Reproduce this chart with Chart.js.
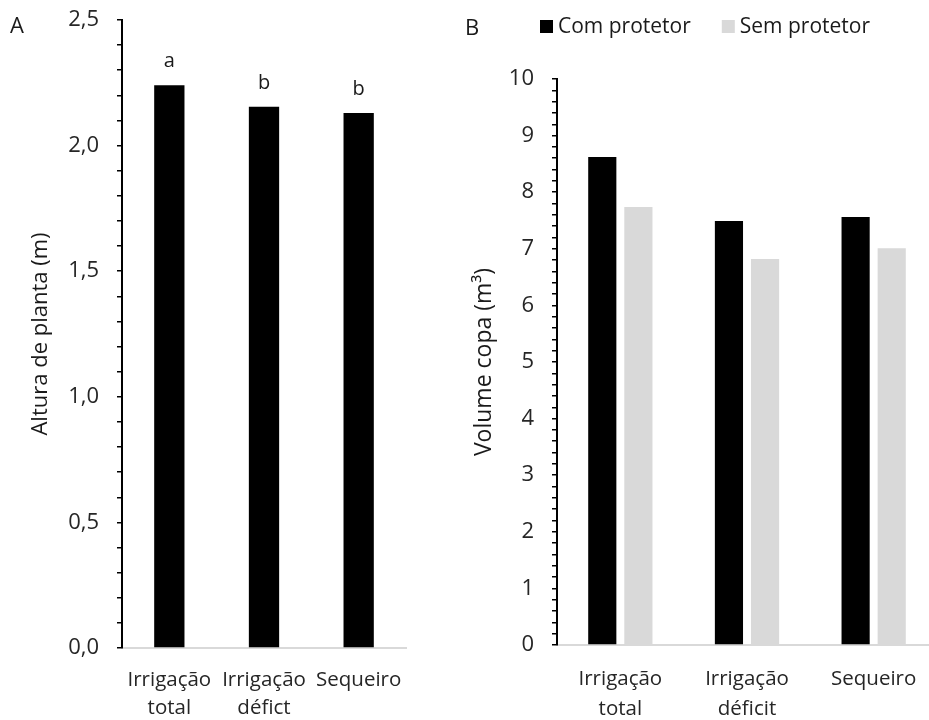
<!DOCTYPE html>
<html>
<head>
<meta charset="utf-8">
<script src="https://cdn.jsdelivr.net/npm/chart.js@4.4.1/dist/chart.umd.min.js"></script>
<style>
    html, body { margin: 0; padding: 0; background: #fff; overflow: hidden; }
    #wrap { position: relative; width: 929px; height: 720px; overflow: hidden; }
    #chartA { position: absolute; left: 0; top: -12px; }
    #chartB { position: absolute; left: 460px; top: 0; }
</style>
</head>
<body>
<div id="wrap">
    <canvas id="chartA" width="430" height="732"></canvas>
    <canvas id="chartB" width="480" height="720"></canvas>
</div>
<script>
// Panel A - plant height
const categoriesA = [['Irrigação', 'total'], ['Irrigação', 'défict'], 'Sequeiro'];
const alturaPlanta = [2.24, 2.155, 2.13];
const letrasA = ['a', 'b', 'b'];

// Panel B - canopy volume
const categoriesB = [['Irrigação', 'total'], ['Irrigação', 'déficit'], 'Sequeiro'];
const seriesB = ['Com protetor', 'Sem protetor'];
const comProtetor = [8.62, 7.49, 7.56];
const semProtetor = [7.74, 6.82, 7.01];

const FONT = "'Open Sans', sans-serif";
const TXT = '#262626';
Chart.defaults.font.family = FONT;
Chart.defaults.color = TXT;

// draws the "A" / "B" panel letter
const panelLetter = {
    id: 'panelLetter',
    afterDraw(chart, args, opts) {
        const ctx = chart.ctx;
        ctx.save();
        ctx.font = `22px ${FONT}`;
        ctx.fillStyle = '#1a1a1a';
        ctx.textBaseline = 'alphabetic';
        ctx.fillText(opts.text, opts.x, opts.y);
        ctx.restore();
    }
};

// significance letters above the bars
const barLetters = {
    id: 'barLetters',
    afterDatasetsDraw(chart, args, opts) {
        if (!opts.letters) return;
        const ctx = chart.ctx;
        const meta = chart.getDatasetMeta(0);
        ctx.save();
        ctx.font = `20px ${FONT}`;
        ctx.fillStyle = '#1a1a1a';
        ctx.textAlign = 'center';
        ctx.textBaseline = 'alphabetic';
        meta.data.forEach((bar, i) => {
            ctx.fillText(opts.letters[i], bar.x, bar.y - 18);
        });
        ctx.restore();
    }
};

// simple legend row, Excel style
const rowLegend = {
    id: 'rowLegend',
    afterDraw(chart, args, opts) {
        if (!opts.display) return;
        const ctx = chart.ctx;
        ctx.save();
        ctx.font = `21px ${FONT}`;
        ctx.textBaseline = 'middle';
        let x = opts.x;
        chart.data.datasets.forEach(ds => {
            ctx.fillStyle = ds.backgroundColor;
            ctx.fillRect(x, opts.y - 6, 13, 13);
            ctx.fillStyle = '#1a1a1a';
            ctx.fillText(ds.label, x + 18, opts.y + 1);
            x += 18 + ctx.measureText(ds.label).width + 31;
        });
        ctx.restore();
    }
};

function yTicks(isMajor, fmt) {
    return {
        autoSkip: false,
        padding: 18,
        color: TXT,
        font: { size: 22 },
        callback: function (value) {
            return isMajor(value) ? fmt(value) : '';
        }
    };
}

new Chart(document.getElementById('chartA'), {
    type: 'bar',
    data: {
        labels: categoriesA,
        datasets: [{
            label: 'Altura de planta',
            data: alturaPlanta,
            backgroundColor: '#000000',
            barPercentage: 0.32,
            categoryPercentage: 1
        }]
    },
    options: {
        responsive: false,
        devicePixelRatio: 1,
        animation: false,
        layout: { padding: { left: 0, right: 24, top: 32, bottom: 0 } },
        plugins: {
            legend: { display: false },
            tooltip: { enabled: false },
            panelLetter: { text: 'A', x: 10, y: 45 },
            barLetters: { letters: letrasA },
            rowLegend: { display: false }
        },
        scales: {
            x: {
                grid: { display: false },
                border: { color: '#d9d9d9', width: 2 },
                ticks: { color: TXT, font: { size: 20.5, lineHeight: 1.37 }, padding: 10, maxRotation: 0, autoSkip: false },
                afterFit: function (scale) { scale.height = 72; }
            },
            y: {
                min: 0,
                max: 2.5,
                ticks: Object.assign({ stepSize: 0.1 }, yTicks(
                    v => Math.abs(v * 2 - Math.round(v * 2)) < 1e-6,
                    v => v.toFixed(1).replace('.', ',')
                )),
                grid: { drawOnChartArea: false, drawTicks: true, tickLength: 5, color: '#000', lineWidth: 1.5 },
                border: { color: '#000', width: 2 },
                title: {
                    display: true,
                    text: 'Altura de planta (m)',
                    color: '#1a1a1a',
                    font: { size: 22, lineHeight: 1.2 },
                    padding: { top: 28, bottom: 0 }
                },
                afterFit: function (scale) { scale.width = 122; }
            }
        }
    },
    plugins: [panelLetter, barLetters, rowLegend]
});

new Chart(document.getElementById('chartB'), {
    type: 'bar',
    data: {
        labels: categoriesB,
        datasets: [{
            label: seriesB[0],
            data: comProtetor,
            backgroundColor: '#000000',
            barPercentage: 0.78,
            categoryPercentage: 0.57
        },
        {
            label: seriesB[1],
            data: semProtetor,
            backgroundColor: '#d9d9d9',
            barPercentage: 0.78,
            categoryPercentage: 0.57
        }]
    },
    options: {
        responsive: false,
        devicePixelRatio: 1,
        animation: false,
        layout: { padding: { left: 0, right: 3, top: 79, bottom: 0 } },
        plugins: {
            legend: { display: false },
            tooltip: { enabled: false },
            panelLetter: { text: 'B', x: 5, y: 35 },
            barLetters: { letters: null },
            rowLegend: { display: true, x: 80, y: 26 }
        },
        scales: {
            x: {
                grid: { display: false },
                border: { color: '#d9d9d9', width: 2 },
                ticks: { color: TXT, font: { size: 20.5, lineHeight: 1.47 }, padding: 11, maxRotation: 0, autoSkip: false },
                afterFit: function (scale) { scale.height = 75; }
            },
            y: {
                min: 0,
                max: 10,
                ticks: Object.assign({ stepSize: 0.2 }, yTicks(
                    v => Math.abs(v - Math.round(v)) < 1e-6,
                    v => String(Math.round(v))
                )),
                grid: { drawOnChartArea: false, drawTicks: true, tickLength: 5, color: '#000', lineWidth: 1.5 },
                border: { color: '#000', width: 2 },
                title: {
                    display: true,
                    text: 'Volume copa (m³)',
                    color: '#1a1a1a',
                    font: { size: 23, lineHeight: 1.2 },
                    padding: { top: 11, bottom: 0 }
                },
                afterFit: function (scale) { scale.width = 97; }
            }
        }
    },
    plugins: [panelLetter, barLetters, rowLegend]
});
</script>
</body>
</html>
